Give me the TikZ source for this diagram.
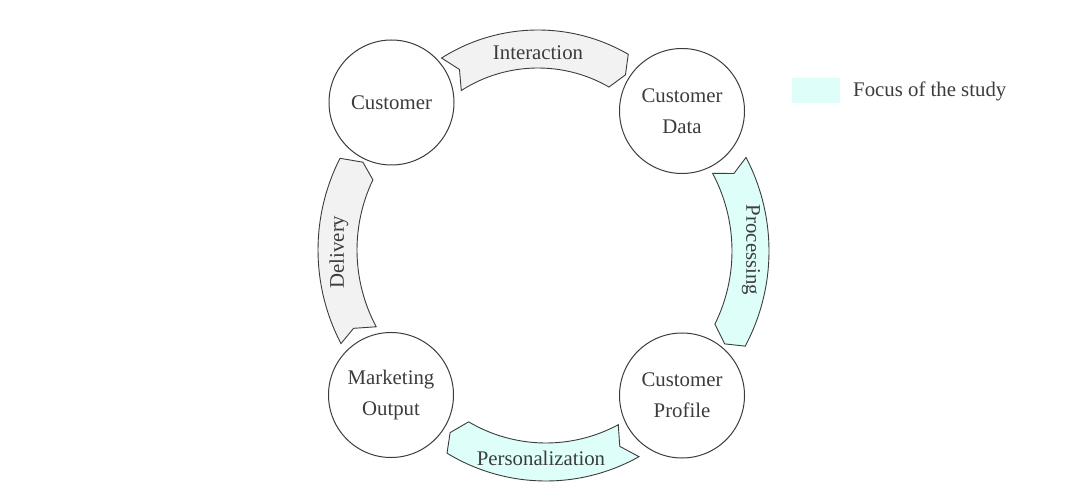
\documentclass[tikz,border=0pt]{standalone}
\usepackage{fontspec}
\setmainfont{Liberation Serif}
\usetikzlibrary{calc}
\definecolor{linec}{RGB}{60,60,60}
\definecolor{txt}{RGB}{60,60,60}
\definecolor{grayband}{HTML}{F2F2F2}
\definecolor{cyanband}{HTML}{DEFEFA}
\begin{document}
\begin{tikzpicture}[x=1pt,y=1pt,
  every node/.style={text=txt, font=\fontsize{20.8}{31}\selectfont},
  circ/.style={circle, draw=linec, line width=1pt, fill=white, minimum size=125pt, inner sep=0pt, align=center},
  band/.style={draw=linec, line width=0.9pt, line join=miter},
  lbl/.style={inner sep=0pt}]
\useasboundingbox (0,0) rectangle (1087,-502);
\fill[white] (0,0) rectangle (1087,-502);
% centres of the arrow bands
\coordinate (cI) at (538,-210);
\coordinate (cP) at (567,-251);
\coordinate (cZ) at (546,-291);
\coordinate (cD) at (520,-250);
% Interaction
\draw[band, fill=grayband] ($(cI)+(122.4:180)$) arc[start angle=122.4, end angle=59.9, radius=180]
  -- ($(cI)+(57.1:161)$) -- ($(cI)+(60:142)$) arc[start angle=60, end angle=122.7, radius=142]
  -- ($(cI)+(119.2:161)$) -- cycle;
% Processing
\draw[band, fill=cyanband] ($(cP)+(27.6:202)$) arc[start angle=27.6, end angle=-28.1, radius=202]
  -- ($(cP)+(-30.5:183)$) -- ($(cP)+(-26.3:165)$) arc[start angle=-26.3, end angle=28.1, radius=165]
  -- ($(cP)+(24.9:184)$) -- cycle;
% Personalization
\draw[band, fill=cyanband] ($(cZ)+(-60.7:190)$) arc[start angle=-60.7, end angle=-121.4, radius=190]
  -- ($(cZ)+(-124.1:171)$) -- ($(cZ)+(-120.6:152)$) arc[start angle=-120.6, end angle=-61.6, radius=152]
  -- ($(cZ)+(-64.6:172)$) -- cycle;
% Delivery
\draw[band, fill=grayband] ($(cD)+(207.6:202)$) arc[start angle=207.6, end angle=153, radius=202]
  -- ($(cD)+(150.8:180)$) -- ($(cD)+(154.5:163)$) arc[start angle=154.5, end angle=208.1, radius=163]
  -- ($(cD)+(205.2:184)$) -- cycle;
% band labels
\node[lbl] (tI) at (538,-53) {Interaction};
\node[lbl, rotate=-90] (tP) at (751,-250) {Processing};
\node[lbl] (tZ) at (541,-458) {Personalization};
\node[lbl, rotate=90] (tD) at (339,-252) {Delivery};
% circles
\node[circ] (cust) at (391.5,-102.5) {Customer};
\node[circ] (data) at (682,-111) {Customer\\Data};
\node[circ] (prof) at (682,-395.5) {Customer\\Profile};
\node[circ] (mark) at (391,-395) {Marketing\\Output};
% legend
\fill[cyanband] (792,-78) rectangle (840,-103);
\node[inner sep=0pt, anchor=base west] (leg) at (853,-97) {Focus of the study};
\end{tikzpicture}
\end{document}
